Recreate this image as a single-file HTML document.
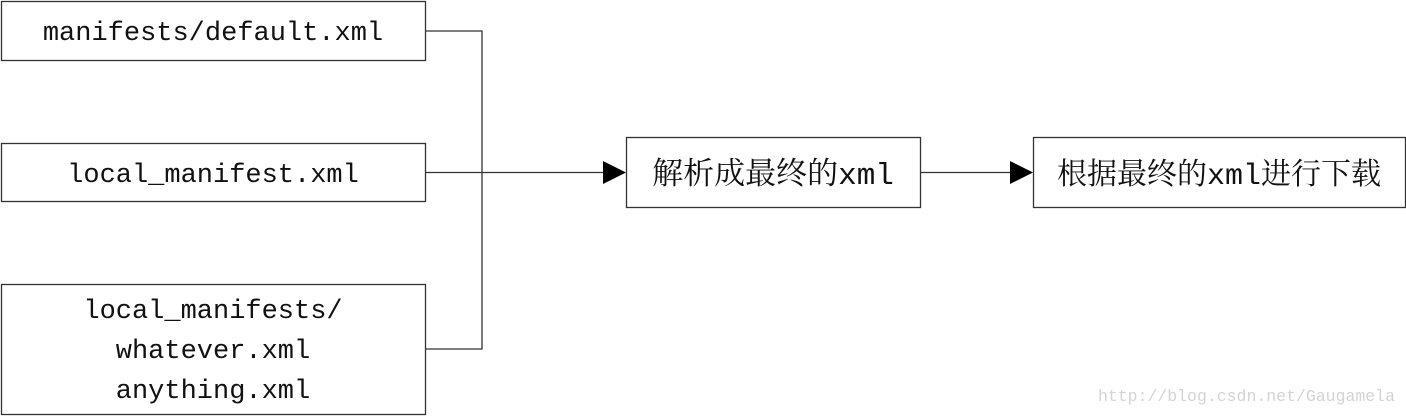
<!DOCTYPE html>
<html><head><meta charset="utf-8"><style>
html,body{margin:0;padding:0;background:#fff;width:1406px;height:416px;overflow:hidden}
svg text{font-family:"Liberation Mono","Noto Serif CJK SC",monospace;fill:#111}
.c{font-family:"Noto Serif CJK SC",serif}
.m{font-family:"Liberation Mono",monospace}
</style></head><body>
<svg width="1406" height="416" xmlns="http://www.w3.org/2000/svg">
<g fill="none" stroke="#333" stroke-width="1.3">
<rect x="1.5" y="1.5" width="424" height="59"/>
<rect x="1.5" y="143.5" width="424" height="58"/>
<rect x="1.5" y="284.5" width="424" height="130"/>
<rect x="626.5" y="137.5" width="294" height="70"/>
<rect x="1033.5" y="137.5" width="372" height="70"/>
<polyline points="426,31 482,31 482,349 426,349"/>
<line x1="426" y1="172.5" x2="606" y2="172.5"/>
<line x1="921" y1="172.5" x2="1012" y2="172.5"/>
</g>
<polygon points="603,161 626,172.5 603,184" fill="#000"/>
<polygon points="1010,161 1033,172.5 1010,184" fill="#000"/>
<g font-size="27" text-anchor="middle">
<text x="213" y="40">manifests/default.xml</text>
<text x="213" y="182">local_manifest.xml</text>
<text x="213" y="318">local_manifests/</text>
<text x="213" y="358">whatever.xml</text>
<text x="213" y="398">anything.xml</text>
</g>
<text x="773" y="184" font-size="31" text-anchor="middle"><tspan class="c">解析成最终的</tspan><tspan class="m">xml</tspan></text>
<text x="1219" y="184" font-size="30" text-anchor="middle"><tspan class="c">根据最终的</tspan><tspan class="m">xml</tspan><tspan class="c">进行下载</tspan></text>
<text x="1395" y="401" font-size="16.5" style="fill:#d4d4d4" text-anchor="end">http://blog.csdn.net/Gaugamela</text>
</svg>
</body></html>
